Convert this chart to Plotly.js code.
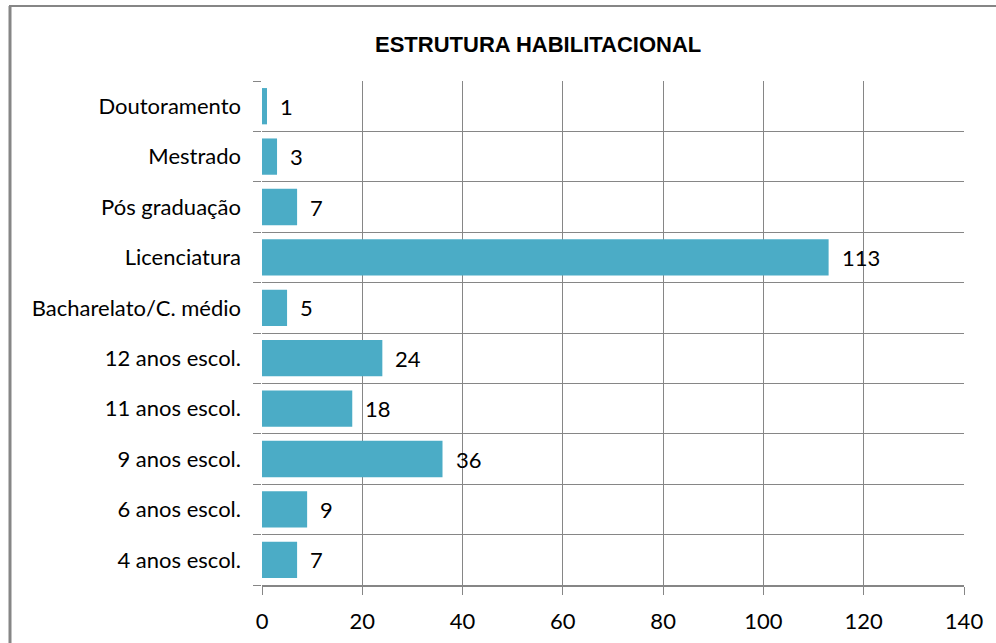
<!DOCTYPE html>
<html><head><meta charset="utf-8">
<script src="https://cdn.plot.ly/plotly-3.0.1.min.js"></script>
<style>html,body{margin:0;padding:0;background:#fff}#chart{width:996px;height:643px}</style>
</head><body><div id="chart"></div>
<script>
const categories = ["4 anos escol.","6 anos escol.","9 anos escol.","11 anos escol.","12 anos escol.","Bacharelato/C. médio","Licenciatura","Pós graduação","Mestrado","Doutoramento"];
const values = [7,9,36,18,24,5,113,7,3,1];
const xTicks = [0,20,40,60,80,100,120,140];

const labelFont = {family:"Lato, 'Open Sans', sans-serif", size:22, color:"#000"};
const annotations = categories.map((c,i)=>({
  x: values[i], y: c, xref:'x', yref:'y', text: String(values[i]),
  showarrow:false, xanchor:'left', xshift: 11, font: labelFont
}));
annotations.push({
  text:"<b>ESTRUTURA HABILITACIONAL</b>", xref:'paper', yref:'paper',
  x:0.393, y:1.0, yshift:37, xanchor:'center', yanchor:'middle', showarrow:false,
  font:{family:"'Liberation Sans', Arial, sans-serif", size:22, color:"#000"}
});

const data = [{
  type:'bar', orientation:'h', x: values, y: categories,
  marker:{color:'#4BACC6'}, hoverinfo:'skip'
}];

const layout = {
  width:996, height:643,
  margin:{l:262, r:32, t:81, b:58},
  paper_bgcolor:'#fff', plot_bgcolor:'#fff',
  showlegend:false, bargap:0.28,
  xaxis:{range:[0,140], tickvals:xTicks, ticktext:xTicks.map(String),
    showgrid:true, gridcolor:'#868686', gridwidth:1, zeroline:false,
    showline:true, linecolor:'#868686', linewidth:2,
    ticks:'outside', ticklen:8, tickcolor:'#868686',
    ticklabelstandoff:8, tickfont:labelFont, fixedrange:true},
  yaxis:{type:'category', categoryorder:'array', categoryarray:categories,
    tickson:'boundaries', showgrid:true, gridcolor:'#868686', gridwidth:1,
    showline:false, zeroline:false,
    ticks:'outside', ticklen:8, tickcolor:'#868686',
    ticklabelstandoff:20, tickfont:labelFont, fixedrange:true},
  annotations: annotations,
  shapes:[
    {type:'line', xref:'paper', yref:'paper', x0:-253/702, x1:734/702, y0:1+75/504, y1:1+75/504, line:{color:'#868686', width:2}},
    {type:'line', xref:'paper', yref:'paper', x0:-252/702, x1:-252/702, y0:1+75/504, y1:-58/504, line:{color:'#868686', width:3}}
  ]
};
Plotly.newPlot('chart', data, layout, {displayModeBar:false, staticPlot:true});
</script></body></html>
